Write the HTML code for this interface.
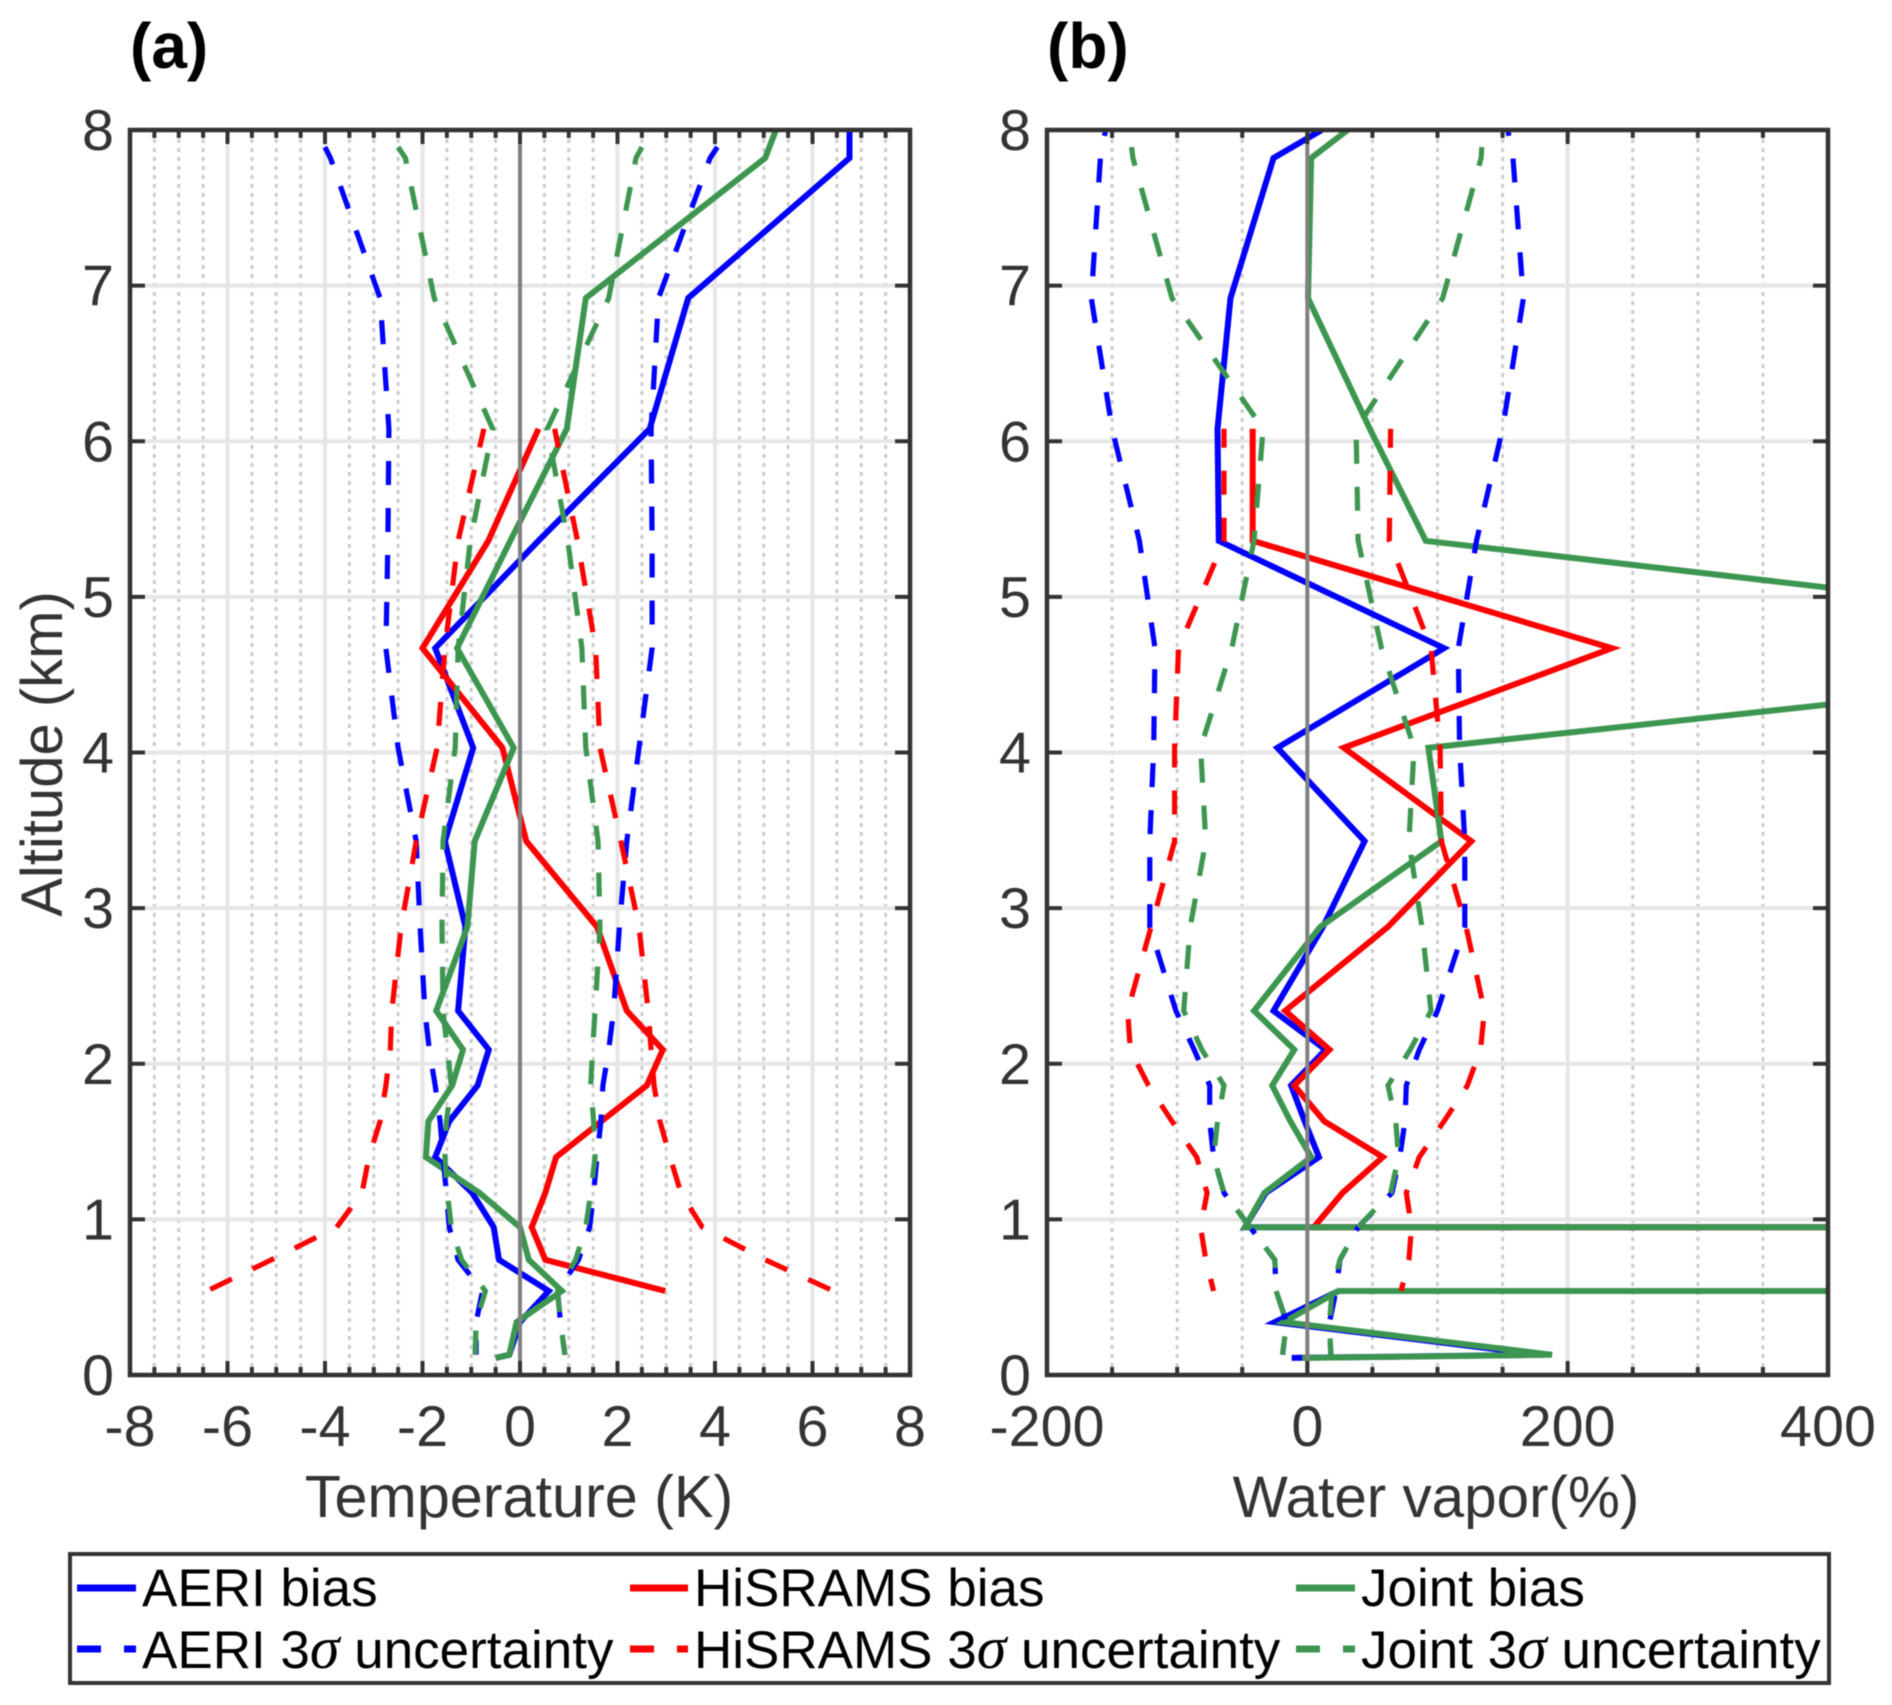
<!DOCTYPE html>
<html lang="en">
<head>
<meta charset="utf-8">
<title>Temperature and water vapor bias profiles</title>
<style>
html,body{margin:0;padding:0;background:#fff;}
#figure{display:block;width:1892px;height:1705px;font-family:"Liberation Sans",Arial,sans-serif;filter:blur(0.4px);}
</style>
</head>
<body>
<svg id="figure" xmlns="http://www.w3.org/2000/svg" width="1892" height="1705" viewBox="0 0 1892 1705">
  <defs>
    <clipPath id="clip-a"><rect x="130" y="130" width="780" height="1245"/></clipPath>
    <clipPath id="clip-b"><rect x="1047" y="130" width="781" height="1245"/></clipPath>
  </defs>
  <rect x="0" y="0" width="1892" height="1705" fill="#fff"/>
  <g id="panel-a"></g>
  <g id="panel-b"></g>
  <text x="130" y="68" font-size="64" font-weight="bold" fill="#000">(a)</text>
  <text x="1047" y="68" font-size="64" font-weight="bold" fill="#000">(b)</text>
  <text transform="translate(62,754) rotate(-90)" text-anchor="middle" font-size="58" fill="#333">Altitude (km)</text>
  <text x="519" y="1517" text-anchor="middle" font-size="59.3" fill="#333">Temperature (K)</text>
  <text x="1436" y="1517" text-anchor="middle" font-size="58.4" fill="#333">Water vapor(%)</text>

  <g>
    <rect x="70" y="1554" width="1759" height="129" fill="#fff" stroke="#333" stroke-width="4"/>
    <g>
      <line x1="77" x2="136" y1="1588" y2="1588" stroke="#0000ff" stroke-width="7"/>
      <text x="142" y="1606" font-size="53" fill="#000">AERI bias</text>
    </g>
    <g>
      <line x1="630" x2="688" y1="1588" y2="1588" stroke="#ff0000" stroke-width="7"/>
      <text x="694" y="1606" font-size="53" fill="#000">HiSRAMS bias</text>
    </g>
    <g>
      <line x1="1296" x2="1355" y1="1588" y2="1588" stroke="#3d9650" stroke-width="7"/>
      <text x="1361" y="1606" font-size="53" fill="#000">Joint bias</text>
    </g>
    <g>
      <line x1="77" x2="136" y1="1649" y2="1649" stroke="#0000ff" stroke-width="7" stroke-dasharray="24 23"/>
      <text x="142" y="1668" font-size="53" fill="#000">AERI 3<tspan font-family="'Liberation Serif',serif" font-style="italic" font-size="60">σ</tspan> uncertainty</text>
    </g>
    <g>
      <line x1="630" x2="688" y1="1649" y2="1649" stroke="#ff0000" stroke-width="7" stroke-dasharray="24 23"/>
      <text x="694" y="1668" font-size="53" fill="#000">HiSRAMS 3<tspan font-family="'Liberation Serif',serif" font-style="italic" font-size="60">σ</tspan> uncertainty</text>
    </g>
    <g>
      <line x1="1296" x2="1355" y1="1649" y2="1649" stroke="#3d9650" stroke-width="7" stroke-dasharray="24 23"/>
      <text x="1361" y="1668" font-size="53" fill="#000">Joint 3<tspan font-family="'Liberation Serif',serif" font-style="italic" font-size="60">σ</tspan> uncertainty</text>
    </g>
  </g>
</svg>
<script>
const _ = null;
// Altitude levels (km) shared by every profile; null means the series has no value at that level.
const altitudeKm = [8, 7.89, 7.82, 6.92, 6.08, 5.36, 4.67, 4.03, 3.43, 2.88, 2.34, 2.09, 1.86, 1.63, 1.40, 1.17, 0.95, 0.74, 0.54, 0.34, 0.13, 0.11];

// Temperature (K)
const tempAeriBias = [6.76, _, 6.76, 3.45, 2.66, 0.38, -1.74, -0.96, -1.54, -1.12, -1.27, -0.64, -0.87, -1.45, -1.74, -0.98, -0.54, -0.43, 0.59, 0, -0.22, -0.5];
const tempHisramsBias = [_, _, _, _, 0.38, -0.65, -2.0, -0.36, 0.13, 1.58, 2.19, 2.93, 2.6, 1.67, 0.74, 0.52, 0.24, 0.52, 2.98, _, _, _];
const tempJointBias = [5.25, _, 5.03, 1.35, 0.96, -0.2, -1.29, -0.13, -0.93, -1.08, -1.72, -1.17, -1.39, -1.88, -1.93, -0.83, 0, 0.18, 0.86, -0.07, -0.22, -0.5];
const tempAeriLow = [_, -4.0, -3.89, -2.87, -2.69, -2.71, -2.75, -2.5, -2.13, -2.05, -1.95, -1.86, -1.74, -1.64, -1.58, -1.51, -1.45, -1.27, -0.77, -0.9, -0.9, _];
const tempAeriHigh = [_, 4.05, 3.9, 2.84, 2.69, 2.71, 2.71, 2.44, 2.19, 2.04, 1.92, 1.82, 1.7, 1.66, 1.58, 1.51, 1.43, 1.2, 0.77, 0.83, 0.92, _];
const tempHisramsLow = [_, _, _, _, -0.74, -1.27, -1.54, -1.7, -2.13, -2.44, -2.63, -2.66, -2.75, -2.87, -3.1, -3.24, -3.76, -5.1, -6.42, _, _, _];
const tempHisramsHigh = [_, _, _, _, 0.71, 1.18, 1.55, 1.64, 2.07, 2.44, 2.63, 2.69, 2.75, 2.87, 3.08, 3.3, 3.74, 5.03, 6.43, _, _, _];
const tempJointLow = [_, -2.5, -2.35, -1.76, -0.56, -1.02, -1.27, -1.33, -1.58, -1.6, -1.58, -1.49, -1.41, -1.51, -1.54, -1.49, -1.41, -1.2, -0.71, -0.9, -0.92, _];
const tempJointHigh = [_, 2.5, 2.38, 1.82, 0.56, 0.98, 1.27, 1.35, 1.6, 1.64, 1.54, 1.49, 1.45, 1.51, 1.54, 1.45, 1.35, 1.14, 0.77, 0.83, 0.92, _];

// Water vapor (%)
const wvAeriBias = [11, _, -26, -59, -69, -68, 105, -23, 44, 12, -26, 14, -12.5, -2, 9, -32, -48, 1000000, 24, -25, 180, -12];
const wvHisramsBias = [_, _, _, _, -42, -42, 234, 28, 126, 62, -17, 17, -10, 13, 58, 27, 5, 1000000, 24, _, _, _];
const wvJointBias = [31, _, 3, 0.5, 48, 91, 800, 93, 103, 10, -41, -10, -27, -13, 3, -33, -48, 1000000, 24, -18, 188, -4];
const wvAeriLow = [-155, _, -159, -166, -150, -129, -117, -118, -121, -121, -101, -87, -75, -75, -72, -64, -44, -25, -24, -16, -19, _];
const wvAeriHigh = [154, _, 158, 166, 150, 130, 116, 117, 121, 121, 100, 86, 76, 75, 71, 65, 39, 25, 22, 17, 18, _];
const wvHisramsLow = [_, _, _, _, -64, -64, -99, -102, -102, -120, -138, -136, -122, -104, -85, -77, -82, -78, -72, _, _, _];
const wvHisramsHigh = [_, _, _, _, 64, 63, 95, 102, 103, 122, 136, 133, 123, 105, 86, 76, 80, 78, 72, _, _, _];
const wvJointLow = [_, -135, -134, -104, -34, -41, -58, -82, -78, -90, -95, -81, -64, -69, -72, -64, -44, -25, -24, -16, -19, _];
const wvJointHigh = [_, 134, 133.5, 104, 37.5, 39, 57, 82, 78, 88, 95, 79, 62, 68, 70, 64, 39, 25, 19, 17, 18, _];

// Ticks
const altitudeTicks = [0, 1, 2, 3, 4, 5, 6, 7, 8];
const tempMajorTicks = [-8, -6, -4, -2, 0, 2, 4, 6, 8];
const tempMinorTicks = [-7.5, -7, -6.5, -5.5, -5, -4.5, -3.5, -3, -2.5, -1.5, -1, -0.5, 0.5, 1, 1.5, 2.5, 3, 3.5, 4.5, 5, 5.5, 6.5, 7, 7.5];
const wvMajorTicks = [-200, 0, 200, 400];
const wvMinorTicks = [-150, -100, -50, 50, 100, 150, 250, 300, 350];

const SVG_NS = 'http://www.w3.org/2000/svg';
const BLUE = '#0000ff', RED = '#ff0000', GREEN = '#3d9650';
const INK = '#333333';

function makeEl(tag, attrs, parent) {
  const el = document.createElementNS(SVG_NS, tag);
  for (const k in attrs) el.setAttribute(k, attrs[k]);
  parent.appendChild(el);
  return el;
}

function drawPanel(cfg) {
  const root = document.getElementById(cfg.id);
  const L = cfg.left, R = cfg.right, T = 130, B = 1375;
  const xOf = v => L + (v - cfg.xMin) / (cfg.xMax - cfg.xMin) * (R - L);
  const yOf = v => B - v / 8 * (B - T);

  cfg.minor.forEach(v => {
    const g = makeEl('line', {x1: xOf(v), x2: xOf(v), y1: T, y2: B, stroke: '#cccccc', 'stroke-width': 3, 'stroke-dasharray': '4 5'}, root);
    
    
  });
  cfg.major.forEach(v => {
    if (v === 0 || v === cfg.xMin || v === cfg.xMax) return;
    const g = makeEl('line', {x1: xOf(v), x2: xOf(v), y1: T, y2: B, stroke: '#e6e6e6', 'stroke-width': 4}, root);
    
    
  });
  altitudeTicks.forEach(v => {
    if (v === 0 || v === 8) return;
    const g = makeEl('line', {x1: L, x2: R, y1: yOf(v), y2: yOf(v), stroke: '#e6e6e6', 'stroke-width': 4}, root);
    
    
  });

  const plot = makeEl('g', {'clip-path': 'url(#' + cfg.clip + ')'}, root);
  
  
  cfg.series.forEach(s => {
    const pts = [];
    s.values.forEach((v, i) => {
      if (v !== null) pts.push(xOf(v).toFixed(1) + ',' + yOf(altitudeKm[i]).toFixed(1));
    });
    const line = makeEl('polyline', {
      points: pts.join(' '), fill: 'none', stroke: s.color,
      'stroke-width': s.dashed ? 5.2 : 6, 'stroke-linejoin': 'miter'
    }, plot);
    if (s.dashed) {
      line.setAttribute('stroke-dasharray', '24 23');
      line.setAttribute('stroke-dashoffset', s.phase === undefined ? 5 : s.phase);
    }
    
    
  });

  const zero = makeEl('line', {x1: xOf(0), x2: xOf(0), y1: T, y2: B, stroke: '#808080', 'stroke-width': 4}, root);
  
  

  const tick = (x1, y1, x2, y2) => {
    const t = makeEl('line', {x1, y1, x2, y2, stroke: INK, 'stroke-width': 4}, root);
    
    
  };
  cfg.minor.forEach(v => { tick(xOf(v), B, xOf(v), B - 8); tick(xOf(v), T, xOf(v), T + 8); });
  cfg.major.forEach(v => { tick(xOf(v), B, xOf(v), B - 14); tick(xOf(v), T, xOf(v), T + 14); });
  altitudeTicks.forEach(v => { tick(L, yOf(v), L + 15, yOf(v)); tick(R, yOf(v), R - 15, yOf(v)); });

  const frame = makeEl('rect', {x: L, y: T, width: R - L, height: B - T, fill: 'none', stroke: INK, 'stroke-width': 4.5}, root);
  
  

  cfg.major.forEach(v => {
    const t = makeEl('text', {x: xOf(v), y: 1446, 'text-anchor': 'middle', 'font-size': 57.5, fill: INK}, root);
    t.textContent = String(v);
    
    
  });
  altitudeTicks.forEach(v => {
    const t = makeEl('text', {x: L - 16, y: yOf(v) + 20, 'text-anchor': 'end', 'font-size': 57.5, fill: INK}, root);
    t.textContent = String(v);
    
    
  });
}

drawPanel({
  id: 'panel-a', clip: 'clip-a', left: 130, right: 910, xMin: -8, xMax: 8,
  major: tempMajorTicks, minor: tempMinorTicks,
  series: [
    {name: 'aeri-bias-temperature', values: tempAeriBias, color: BLUE},
    {name: 'hisrams-bias-temperature', values: tempHisramsBias, color: RED},
    {name: 'joint-bias-temperature', values: tempJointBias, color: GREEN},
    {name: 'aeri-uncertainty-low-temperature', values: tempAeriLow, color: BLUE, dashed: true},
    {name: 'aeri-uncertainty-high-temperature', values: tempAeriHigh, color: BLUE, dashed: true},
    {name: 'hisrams-uncertainty-low-temperature', values: tempHisramsLow, color: RED, dashed: true},
    {name: 'hisrams-uncertainty-high-temperature', values: tempHisramsHigh, color: RED, dashed: true},
    {name: 'joint-uncertainty-low-temperature', values: tempJointLow, color: GREEN, dashed: true},
    {name: 'joint-uncertainty-high-temperature', values: tempJointHigh, color: GREEN, dashed: true}
  ]
});

drawPanel({
  id: 'panel-b', clip: 'clip-b', left: 1047, right: 1828, xMin: -200, xMax: 400,
  major: wvMajorTicks, minor: wvMinorTicks,
  series: [
    {name: 'aeri-bias-water-vapor', values: wvAeriBias, color: BLUE},
    {name: 'hisrams-bias-water-vapor', values: wvHisramsBias, color: RED},
    {name: 'joint-bias-water-vapor', values: wvJointBias, color: GREEN},
    {name: 'aeri-uncertainty-low-water-vapor', values: wvAeriLow, color: BLUE, dashed: true, phase: 18},
    {name: 'aeri-uncertainty-high-water-vapor', values: wvAeriHigh, color: BLUE, dashed: true, phase: 18},
    {name: 'hisrams-uncertainty-low-water-vapor', values: wvHisramsLow, color: RED, dashed: true},
    {name: 'hisrams-uncertainty-high-water-vapor', values: wvHisramsHigh, color: RED, dashed: true},
    {name: 'joint-uncertainty-low-water-vapor', values: wvJointLow, color: GREEN, dashed: true},
    {name: 'joint-uncertainty-high-water-vapor', values: wvJointHigh, color: GREEN, dashed: true}
  ]
});
</script>
</body>
</html>
